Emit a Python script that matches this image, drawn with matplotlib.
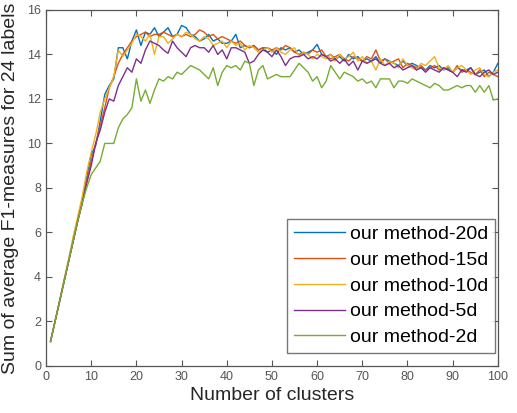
import matplotlib
matplotlib.use("Agg")
import matplotlib.pyplot as plt

plt.rcParams['font.family'] = ['Liberation Sans', 'DejaVu Sans']

clusters = list(range(1, 101))

labels = ["our method-20d", "our method-15d", "our method-10d",
          "our method-5d", "our method-2d"]
colors = ["#0072BD", "#D95319", "#EDB120", "#7E2F8E", "#77AC30"]

f1_20d = [1.1, 2.0, 2.9, 3.8, 4.7, 5.6, 6.5, 7.4, 8.5, 9.5,
          9.9, 11.0, 12.2, 12.6, 12.9, 14.3, 14.3, 13.8, 14.6, 15.1,
          14.4, 15.0, 14.9, 15.2, 14.8, 15.0, 15.2, 14.8, 14.9, 15.3,
          15.2, 14.9, 14.8, 14.6, 14.7, 14.9, 14.6, 14.7, 14.5, 14.5,
          14.6, 14.9, 14.3, 14.4, 14.3, 14.4, 14.2, 14.3, 14.1, 14.2,
          14.0, 14.3, 14.2, 14.3, 14.1, 14.2, 14.0, 14.1, 14.2, 14.45,
          14.0, 13.9, 14.0, 13.8, 13.9, 13.7, 14.0, 13.8, 13.9, 13.7,
          13.8, 13.7, 13.9, 13.6, 13.8, 13.7, 13.6, 13.5, 13.7, 13.5,
          13.6, 13.5, 13.4, 13.3, 13.5, 13.4, 13.5, 13.3, 13.4, 13.2,
          13.4, 13.3, 13.3, 13.4, 13.1, 13.2, 13.3, 13.0, 13.2, 13.6]

f1_15d = [1.1, 2.0, 2.9, 3.8, 4.7, 5.6, 6.5, 7.3, 8.3, 9.2,
          10.0, 10.8, 11.6, 12.5, 13.0, 13.6, 14.0, 14.3, 14.6, 14.8,
          14.9, 15.0, 14.8, 14.9, 14.9, 15.0, 14.9, 14.8, 14.9, 14.8,
          14.9, 14.8, 14.9, 15.1, 15.0, 14.8, 14.9, 14.7, 14.8, 14.7,
          14.6, 14.5, 14.6, 14.4, 14.3, 14.4, 14.2, 14.3, 14.3, 14.2,
          14.3, 14.2, 14.4, 14.3, 14.1, 14.0, 14.1, 14.0, 14.2, 14.1,
          14.2, 13.9, 13.8, 13.9, 14.0, 13.8, 13.7, 13.9, 13.8, 13.7,
          13.9, 13.8, 14.2, 13.7, 13.8, 13.6, 13.7, 13.8, 13.4, 13.6,
          13.5, 13.4, 13.5, 13.3, 13.4, 13.5, 13.3, 13.4, 13.3, 13.2,
          13.5, 13.2, 13.3, 13.2, 13.1, 13.3, 13.0, 13.2, 13.1, 13.0]

f1_10d = [1.1, 2.0, 2.9, 3.9, 4.8, 5.8, 6.7, 7.6, 8.7, 9.6,
          10.4, 11.4, 12.0, 12.5, 13.0, 14.2, 13.9, 14.2, 14.5, 14.9,
          14.8, 14.6, 14.9, 14.0, 14.8, 14.8, 14.5, 14.7, 14.9, 14.8,
          15.0, 14.9, 14.7, 14.6, 14.8, 14.7, 14.4, 14.5, 14.6, 14.3,
          14.6, 14.4, 14.5, 14.2, 14.4, 14.3, 14.1, 14.2, 14.3, 14.1,
          14.3, 14.1, 14.0, 14.2, 14.3, 13.9, 14.1, 14.0, 13.8, 14.0,
          13.9, 13.8, 14.0, 13.7, 14.0, 13.8, 13.9, 14.1, 13.7, 13.9,
          13.6, 13.7, 13.3, 13.8, 13.5, 13.7, 13.6, 13.4, 13.8, 13.5,
          13.4, 13.3, 13.6, 13.5, 13.7, 13.9, 13.4, 13.3, 13.5, 13.2,
          13.4, 13.5, 13.3, 13.1, 13.3, 13.4, 13.1, 13.0, 13.2, 13.3]

f1_5d = [1.1, 2.0, 2.9, 3.8, 4.7, 5.6, 6.5, 7.3, 8.2, 9.0,
         10.0, 10.6, 11.4, 12.0, 11.9, 12.6, 13.0, 13.4, 13.2, 13.8,
         13.6, 14.2, 14.6, 14.5, 14.4, 14.2, 14.05, 14.6, 14.3, 14.1,
         13.9, 14.3, 14.4, 14.3, 14.3, 14.1, 14.4, 14.0, 14.2, 13.8,
         14.3, 14.3, 14.2, 14.1, 13.6, 13.7, 14.0, 14.2, 14.1, 13.9,
         14.2, 13.9, 13.5, 13.8, 13.9, 13.9, 14.0, 13.8, 13.9, 13.8,
         14.0, 13.9, 13.7, 13.8, 13.6, 13.8, 13.5, 13.7, 13.3, 13.7,
         13.6, 13.7, 13.8, 13.6, 13.5, 13.6, 13.4, 13.5, 13.3, 13.4,
         13.5, 13.3, 13.4, 13.2, 13.4, 13.3, 13.2, 13.4, 13.3, 13.2,
         13.0, 13.3, 13.2, 13.4, 13.1, 13.0, 13.2, 13.3, 13.1, 13.2]

f1_2d = [1.1, 2.0, 2.9, 3.8, 4.7, 5.6, 6.5, 7.3, 8.0, 8.6,
         8.9, 9.2, 10.0, 10.0, 10.0, 10.7, 11.1, 11.3, 11.6, 12.9,
         11.9, 12.4, 11.8, 12.4, 12.9, 12.8, 13.0, 12.9, 13.2, 13.1,
         13.3, 13.5, 13.4, 13.3, 13.1, 12.9, 13.4, 12.6, 13.2, 13.5,
         13.4, 13.5, 13.3, 13.7, 13.6, 12.6, 13.3, 13.5, 12.9, 13.0,
         13.1, 13.0, 13.0, 13.0, 13.3, 13.6, 13.4, 13.2, 12.8, 13.0,
         12.5, 12.8, 13.5, 13.2, 12.9, 13.2, 13.1, 13.0, 12.8, 12.9,
         12.7, 12.8, 12.5, 12.9, 12.9, 12.9, 12.5, 12.8, 12.8, 12.7,
         12.9, 12.8, 12.7, 12.6, 12.5, 12.7, 12.6, 12.4, 12.4, 12.5,
         12.6, 12.5, 12.6, 12.6, 12.3, 12.6, 12.3, 12.6, 11.95, 12.0]

series = [f1_20d, f1_15d, f1_10d, f1_5d, f1_2d]

xticks = list(range(0, 101, 10))
yticks = list(range(0, 17, 2))

fig = plt.figure(figsize=(5.17, 4.13), dpi=100)
ax = fig.add_axes([0.089, 0.114, 0.874, 0.862])

for vals, lab, col in zip(series, labels, colors):
    ax.plot(clusters, vals, color=col, lw=1.0, label=lab)

ax.set_xlim(0, 100)
ax.set_ylim(0, 16)
ax.set_xticks(xticks)
ax.set_yticks(yticks)

frame_col = "#555555"
for sp in ax.spines.values():
    sp.set_color(frame_col)
    sp.set_linewidth(0.9)
ax.tick_params(direction='in', length=4, width=0.8, color=frame_col,
               labelcolor="#555555", labelsize=9, top=True, right=True)

ax.set_xlabel("Number of clusters", fontsize=14, color="#262626", labelpad=3)
ax.set_ylabel("Sum of average F1-measures for 24 labels", fontsize=14,
              color="#262626", labelpad=6)

leg = ax.legend(loc='lower right', bbox_to_anchor=(0.993, 0.0365),
                borderaxespad=0, fontsize=14, handlelength=2.6,
                handletextpad=0.25, labelspacing=0.42, frameon=True,
                fancybox=False, borderpad=0.35)
leg.get_frame().set_edgecolor("#555555")
leg.get_frame().set_linewidth(1.0)

fig.savefig("out.png", dpi=100)
